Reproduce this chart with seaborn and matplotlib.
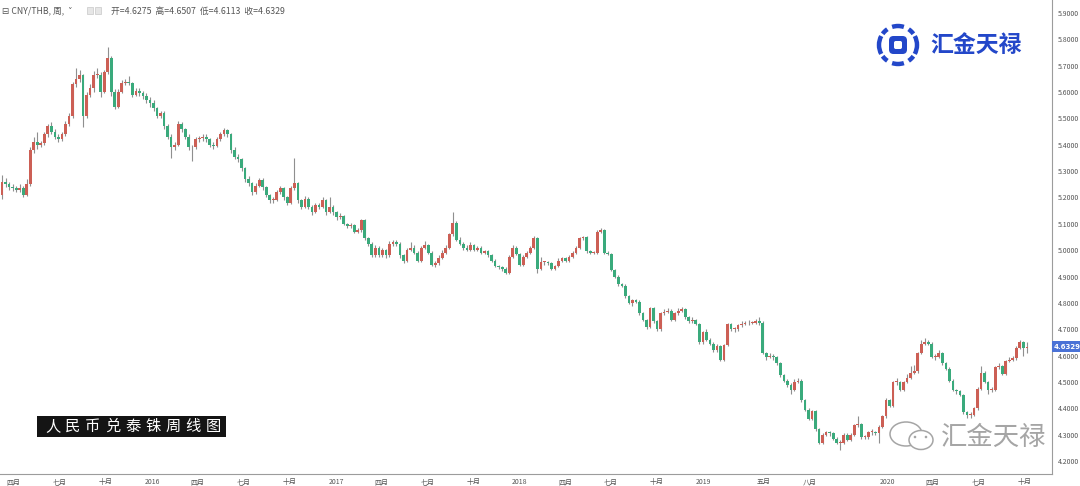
import numpy as np
import pandas as pd
import matplotlib
matplotlib.use("Agg")
import matplotlib.pyplot as plt
import matplotlib.dates as mdates
from matplotlib.patches import Rectangle, FancyBboxPatch, Arc, Ellipse, Circle
import seaborn as sns

# ---------------- data (weekly CNY/THB candles) ----------------
first_week = "2015-03-09"

opens = [
5.21, 5.26, 5.25, 5.24, 5.235, 5.23, 5.235, 5.21, 5.25, 5.38,
5.41, 5.40, 5.405, 5.44, 5.47, 5.45, 5.43, 5.42, 5.44, 5.48,
5.51, 5.63, 5.65, 5.665, 5.51, 5.59, 5.615, 5.665, 5.665, 5.60,
5.675, 5.73, 5.60, 5.545, 5.60, 5.635, 5.64, 5.635, 5.59, 5.605,
5.595, 5.585, 5.57, 5.56, 5.54, 5.51, 5.52, 5.47, 5.43, 5.39,
5.40, 5.48, 5.46, 5.43, 5.39, 5.39, 5.42, 5.425, 5.43, 5.42,
5.40, 5.395, 5.42, 5.44, 5.455, 5.44, 5.38, 5.355, 5.345, 5.31,
5.27, 5.255, 5.22, 5.245,
5.265, 5.24, 5.21, 5.19, 5.19, 5.22, 5.235, 5.20, 5.18, 5.235,
5.255, 5.19, 5.165, 5.195, 5.165, 5.145, 5.17, 5.165, 5.19, 5.145,
5.165, 5.145, 5.125, 5.13, 5.10, 5.09, 5.095, 5.07, 5.075, 5.115,
5.045, 5.025, 4.98, 5.01, 4.98, 5.00, 4.98, 5.025, 5.03, 5.025,
4.98, 4.96, 5.00, 5.01, 4.99, 4.96, 5.01, 5.02, 4.99, 4.945,
4.95, 4.97, 4.99, 5.01, 5.06, 5.105, 5.04, 5.025, 5.01, 5.00,
5.02, 5.00, 5.01, 4.99, 4.995, 4.98, 4.96, 4.94, 4.935, 4.93,
4.915, 4.975,
5.01, 4.985, 4.945, 4.975, 4.99, 5.01, 5.045, 4.93, 4.955, 4.955,
4.95, 4.93, 4.94, 4.96, 4.97, 4.96, 4.975, 4.99, 5.01, 5.045,
5.05, 4.995, 4.99, 4.99, 5.07, 5.075, 4.99, 4.985, 4.925, 4.90,
4.87, 4.865, 4.825, 4.80, 4.81, 4.805, 4.76, 4.735, 4.71, 4.78,
4.73, 4.70, 4.76, 4.765, 4.77, 4.735, 4.76, 4.77, 4.775, 4.745,
4.73, 4.735, 4.72, 4.65, 4.69, 4.66, 4.645, 4.62, 4.635, 4.585,
4.64, 4.72, 4.70, 4.70, 4.715, 4.72, 4.722, 4.725, 4.725, 4.73,
4.725, 4.61,
4.595, 4.60, 4.595, 4.57, 4.525, 4.505, 4.49, 4.47, 4.50, 4.505,
4.43, 4.395, 4.36, 4.39, 4.32, 4.27, 4.30, 4.31, 4.305, 4.285,
4.27, 4.27, 4.30, 4.28, 4.30, 4.335, 4.34, 4.29, 4.29, 4.31,
4.31, 4.305, 4.33, 4.37, 4.43, 4.41, 4.50, 4.50, 4.47, 4.50,
4.515, 4.535, 4.54, 4.61, 4.645, 4.65, 4.645, 4.595, 4.595, 4.61,
4.57, 4.55, 4.505, 4.47, 4.465, 4.45, 4.385, 4.375, 4.375, 4.40,
4.475, 4.535, 4.50, 4.47, 4.47, 4.555, 4.56, 4.53, 4.58, 4.585,
4.59, 4.63, 4.65, 4.6275,
]

closes = [
5.26, 5.25, 5.24, 5.235, 5.23, 5.235, 5.21, 5.25, 5.38, 5.41,
5.40, 5.405, 5.44, 5.47, 5.45, 5.43, 5.42, 5.44, 5.48, 5.51,
5.63, 5.65, 5.665, 5.51, 5.59, 5.615, 5.665, 5.665, 5.60, 5.675,
5.73, 5.60, 5.545, 5.60, 5.635, 5.64, 5.635, 5.59, 5.605, 5.595,
5.585, 5.57, 5.56, 5.54, 5.51, 5.52, 5.47, 5.43, 5.39, 5.40,
5.48, 5.46, 5.43, 5.39, 5.39, 5.42, 5.425, 5.43, 5.42, 5.40,
5.395, 5.42, 5.44, 5.455, 5.44, 5.38, 5.355, 5.345, 5.31, 5.27,
5.255, 5.22, 5.245, 5.265,
5.24, 5.21, 5.19, 5.19, 5.22, 5.235, 5.20, 5.18, 5.235, 5.255,
5.19, 5.165, 5.195, 5.165, 5.145, 5.17, 5.165, 5.19, 5.145, 5.165,
5.145, 5.125, 5.13, 5.10, 5.09, 5.095, 5.07, 5.075, 5.115, 5.045,
5.025, 4.98, 5.01, 4.98, 5.00, 4.98, 5.025, 5.03, 5.025, 4.98,
4.96, 5.00, 5.01, 4.99, 4.96, 5.01, 5.02, 4.99, 4.945, 4.95,
4.97, 4.99, 5.01, 5.06, 5.105, 5.04, 5.025, 5.01, 5.00, 5.02,
5.00, 5.01, 4.99, 4.995, 4.98, 4.96, 4.94, 4.935, 4.93, 4.915,
4.975, 5.01,
4.985, 4.945, 4.975, 4.99, 5.01, 5.045, 4.93, 4.955, 4.955, 4.95,
4.93, 4.94, 4.96, 4.97, 4.96, 4.975, 4.99, 5.01, 5.045, 5.05,
4.995, 4.99, 4.99, 5.07, 5.075, 4.99, 4.985, 4.925, 4.90, 4.87,
4.865, 4.825, 4.80, 4.81, 4.805, 4.76, 4.735, 4.71, 4.78, 4.73,
4.70, 4.76, 4.765, 4.77, 4.735, 4.76, 4.77, 4.775, 4.745, 4.73,
4.735, 4.72, 4.65, 4.69, 4.66, 4.645, 4.62, 4.635, 4.585, 4.64,
4.72, 4.70, 4.70, 4.715, 4.72, 4.722, 4.725, 4.725, 4.73, 4.725,
4.61, 4.595,
4.60, 4.595, 4.57, 4.525, 4.505, 4.49, 4.47, 4.50, 4.505, 4.43,
4.395, 4.36, 4.39, 4.32, 4.27, 4.30, 4.31, 4.305, 4.285, 4.27,
4.27, 4.30, 4.28, 4.30, 4.335, 4.34, 4.29, 4.29, 4.31, 4.31,
4.305, 4.33, 4.37, 4.43, 4.41, 4.50, 4.50, 4.47, 4.50, 4.515,
4.535, 4.54, 4.61, 4.645, 4.65, 4.645, 4.595, 4.595, 4.61, 4.57,
4.55, 4.505, 4.47, 4.465, 4.45, 4.385, 4.375, 4.375, 4.40, 4.475,
4.535, 4.50, 4.47, 4.47, 4.555, 4.56, 4.53, 4.58, 4.585, 4.59,
4.63, 4.65, 4.63, 4.6329,
]

highs = [
5.285, 5.275, 5.26, 5.25, 5.245, 5.25, 5.245, 5.27, 5.39, 5.43,
5.45, 5.415, 5.45, 5.48, 5.485, 5.46, 5.44, 5.45, 5.49, 5.52,
5.64, 5.69, 5.685, 5.67, 5.60, 5.63, 5.68, 5.69, 5.675, 5.685,
5.77, 5.735, 5.61, 5.61, 5.645, 5.65, 5.66, 5.64, 5.615, 5.615,
5.605, 5.595, 5.58, 5.57, 5.545, 5.53, 5.53, 5.48, 5.44, 5.41,
5.49, 5.485, 5.465, 5.44, 5.40, 5.43, 5.435, 5.44, 5.44, 5.425,
5.41, 5.43, 5.45, 5.465, 5.46, 5.445, 5.39, 5.365, 5.35, 5.315,
5.28, 5.26, 5.255, 5.275,
5.275, 5.245, 5.215, 5.20, 5.23, 5.245, 5.24, 5.205, 5.245, 5.35,
5.26, 5.195, 5.205, 5.20, 5.17, 5.18, 5.18, 5.20, 5.195, 5.20,
5.17, 5.15, 5.14, 5.135, 5.105, 5.105, 5.10, 5.085, 5.12, 5.12,
5.05, 5.03, 5.02, 5.015, 5.01, 5.005, 5.035, 5.04, 5.04, 5.03,
4.985, 5.01, 5.03, 5.02, 4.995, 5.015, 5.035, 5.025, 4.995, 4.96,
4.98, 5.00, 5.02, 5.065, 5.145, 5.11, 5.05, 5.03, 5.02, 5.03,
5.025, 5.015, 5.015, 5.00, 5.00, 4.985, 4.965, 4.945, 4.94, 4.935,
4.98, 5.02,
5.015, 4.99, 4.98, 4.995, 5.015, 5.055, 5.05, 4.975, 4.96, 4.96,
4.955, 4.945, 4.97, 4.975, 4.975, 4.98, 4.995, 5.015, 5.05, 5.055,
5.055, 5.00, 4.995, 5.075, 5.085, 5.08, 4.995, 4.99, 4.93, 4.905,
4.875, 4.87, 4.83, 4.815, 4.815, 4.81, 4.765, 4.74, 4.785, 4.785,
4.735, 4.765, 4.775, 4.78, 4.775, 4.765, 4.78, 4.785, 4.78, 4.75,
4.745, 4.74, 4.725, 4.695, 4.70, 4.665, 4.65, 4.645, 4.64, 4.645,
4.725, 4.725, 4.71, 4.72, 4.73, 4.73, 4.735, 4.73, 4.74, 4.745,
4.73, 4.615,
4.61, 4.605, 4.60, 4.575, 4.53, 4.51, 4.495, 4.51, 4.515, 4.51,
4.435, 4.40, 4.395, 4.395, 4.325, 4.305, 4.315, 4.315, 4.31, 4.29,
4.28, 4.305, 4.305, 4.305, 4.34, 4.37, 4.345, 4.30, 4.315, 4.32,
4.315, 4.335, 4.375, 4.44, 4.435, 4.505, 4.515, 4.505, 4.505, 4.53,
4.56, 4.565, 4.615, 4.66, 4.665, 4.66, 4.65, 4.605, 4.62, 4.615,
4.575, 4.555, 4.51, 4.475, 4.47, 4.455, 4.39, 4.385, 4.405, 4.48,
4.56, 4.54, 4.505, 4.48, 4.56, 4.57, 4.565, 4.585, 4.595, 4.60,
4.635, 4.66, 4.655, 4.6507,
]

lows = [
5.195, 5.24, 5.23, 5.225, 5.22, 5.22, 5.20, 5.205, 5.245, 5.37,
5.385, 5.39, 5.40, 5.43, 5.44, 5.42, 5.41, 5.415, 5.435, 5.47,
5.50, 5.62, 5.64, 5.467, 5.50, 5.58, 5.60, 5.655, 5.58, 5.595,
5.67, 5.585, 5.535, 5.54, 5.595, 5.625, 5.625, 5.58, 5.585, 5.585,
5.575, 5.56, 5.545, 5.53, 5.50, 5.50, 5.46, 5.42, 5.35, 5.38,
5.395, 5.45, 5.42, 5.38, 5.34, 5.385, 5.41, 5.415, 5.41, 5.39,
5.385, 5.39, 5.415, 5.435, 5.43, 5.37, 5.345, 5.335, 5.30, 5.26,
5.245, 5.21, 5.215, 5.24,
5.23, 5.20, 5.18, 5.18, 5.185, 5.215, 5.19, 5.17, 5.175, 5.23,
5.18, 5.155, 5.16, 5.155, 5.135, 5.14, 5.155, 5.16, 5.135, 5.14,
5.135, 5.115, 5.12, 5.095, 5.085, 5.085, 5.065, 5.065, 5.07, 5.04,
5.015, 4.975, 4.975, 4.975, 4.975, 4.97, 4.975, 5.015, 5.015, 4.97,
4.95, 4.955, 4.995, 4.985, 4.955, 4.955, 5.005, 4.985, 4.94, 4.935,
4.945, 4.965, 4.985, 5.005, 5.055, 5.035, 5.02, 5.00, 4.995, 4.995,
4.995, 4.995, 4.985, 4.985, 4.975, 4.955, 4.935, 4.93, 4.92, 4.91,
4.91, 4.97,
4.98, 4.94, 4.94, 4.97, 4.985, 5.005, 4.915, 4.925, 4.945, 4.945,
4.925, 4.925, 4.935, 4.955, 4.955, 4.955, 4.97, 4.985, 5.005, 5.04,
4.99, 4.985, 4.985, 4.985, 5.065, 4.985, 4.98, 4.92, 4.895, 4.865,
4.86, 4.82, 4.795, 4.79, 4.80, 4.755, 4.73, 4.70, 4.705, 4.725,
4.695, 4.695, 4.755, 4.76, 4.73, 4.73, 4.755, 4.765, 4.74, 4.725,
4.725, 4.715, 4.645, 4.645, 4.655, 4.64, 4.615, 4.615, 4.58, 4.58,
4.635, 4.695, 4.69, 4.695, 4.71, 4.715, 4.715, 4.72, 4.72, 4.715,
4.605, 4.585,
4.59, 4.585, 4.565, 4.52, 4.50, 4.48, 4.455, 4.465, 4.495, 4.425,
4.39, 4.355, 4.355, 4.315, 4.265, 4.265, 4.295, 4.295, 4.28, 4.265,
4.24, 4.265, 4.275, 4.275, 4.295, 4.33, 4.285, 4.285, 4.285, 4.30,
4.30, 4.27, 4.325, 4.365, 4.405, 4.405, 4.49, 4.465, 4.465, 4.495,
4.51, 4.53, 4.535, 4.605, 4.64, 4.64, 4.59, 4.585, 4.59, 4.565,
4.545, 4.50, 4.465, 4.455, 4.445, 4.38, 4.365, 4.365, 4.37, 4.395,
4.47, 4.495, 4.455, 4.46, 4.465, 4.55, 4.525, 4.525, 4.575, 4.58,
4.585, 4.625, 4.60, 4.6113,
]

tick_dates = ["2015-04-01", "2015-07-01", "2015-10-01", "2016-01-01",
              "2016-04-01", "2016-07-01", "2016-10-01", "2017-01-01",
              "2017-04-01", "2017-07-01", "2017-10-01", "2018-01-01",
              "2018-04-01", "2018-07-01", "2018-10-01", "2019-01-01",
              "2019-05-01", "2019-08-01", "2020-01-01", "2020-04-01",
              "2020-07-01", "2020-10-01"]
tick_labels = ["四月", "七月", "十月", "2016", "四月", "七月", "十月", "2017",
               "四月", "七月", "十月", "2018", "四月", "七月", "十月", "2019",
               "五月", "八月", "2020", "四月", "七月", "十月"]
price_ticks = [4.2, 4.3, 4.4, 4.5, 4.6, 4.7, 4.8, 4.9, 5.0,
               5.1, 5.2, 5.3, 5.4, 5.5, 5.6, 5.7, 5.8, 5.9]
last_open, last_high, last_low, last_close = 4.6275, 4.6507, 4.6113, 4.6329

# ---------------- style ----------------
sns.set_theme(style="white")
plt.rcParams['font.family'] = ['Noto Sans CJK SC', 'DejaVu Sans']

UP = "#CC5F55"
DOWN = "#3AAA7C"
WICK = "#8f8f8f"
AXIS = "#9c9c9c"
TXT = "#555555"

df = pd.DataFrame({
    "date": pd.date_range(first_week, periods=len(closes), freq="7D"),
    "open": opens, "high": highs, "low": lows, "close": closes,
})
df["up"] = df["close"] >= df["open"]

fig = plt.figure(figsize=(10.8, 4.86), dpi=100)
ax = fig.add_axes([0, 12 / 486, 1052 / 1080, 474 / 486])

xs = mdates.date2num(df["date"])
ax.vlines(xs, df["low"], df["high"], color=WICK, linewidth=0.8, zorder=2)
body_bottom = np.minimum(df["open"], df["close"])
body_h = np.maximum(np.abs(df["close"] - df["open"]), 0.003)
ax.bar(xs, body_h, bottom=body_bottom, width=5.4,
       color=np.where(df["up"], UP, DOWN), linewidth=0, zorder=3)

# x scale: 0.5031 px/day, Jan 1 2016 at 152 px
px_per_day = 0.5031
x2016 = mdates.date2num(pd.Timestamp("2016-01-01"))
x2020 = mdates.date2num(pd.Timestamp("2020-01-01"))
ax.set_xlim(x2016 - 152 / px_per_day, x2020 + (1052 - 887) / px_per_day)
ax.set_ylim(4.1507, 5.9493)

ax.set_xticks(mdates.date2num(pd.to_datetime(tick_dates)))
ax.set_xticklabels(tick_labels)
ax.yaxis.tick_right()
ax.set_yticks(price_ticks)
ax.set_yticklabels([f"{v:.4f}" for v in price_ticks])
ax.tick_params(axis="x", labelsize=5, colors=TXT, length=2, width=0.6, pad=1.2)
ax.tick_params(axis="y", labelsize=5, colors=TXT, length=2.5, width=0.6, pad=2)
ax.grid(False)
sns.despine(ax=ax, left=True, top=True, right=False, bottom=False)
for s in ("right", "bottom"):
    ax.spines[s].set_color(AXIS)
    ax.spines[s].set_linewidth(0.8)
ax.set_facecolor("white")

# last price tag
ax.text(1.002, last_close, f"{last_close:.4f}", transform=ax.get_yaxis_transform(),
        ha="left", va="center", fontsize=5, color="white", fontweight="bold",
        family=["DejaVu Sans"],
        bbox=dict(boxstyle="square,pad=0.35", fc="#4A72D6", ec="none"), zorder=10,
        clip_on=False)

# ---------------- overlay (pixel coordinates) ----------------
ov = fig.add_axes([0, 0, 1, 1], zorder=5)
ov.set_xlim(0, 1080)
ov.set_ylim(486, 0)
ov.axis("off")
ov.patch.set_alpha(0)

# header
ov.text(2, 11, "⊟ CNY/THB, 周,  ˅", fontsize=6.3, color=TXT, va="center", ha="left",
        family=["Noto Sans CJK SC", "DejaVu Sans"])
for xx in (87, 95):
    ov.add_patch(Rectangle((xx, 7.5), 6, 7, fc="#e6e6e6", ec="#c8c8c8", lw=0.5))
ov.text(111, 11,
        f"开={last_open:.4f}  高={last_high:.4f}  低={last_low:.4f}  收={last_close:.4f}",
        fontsize=6.3, color=TXT, va="center", ha="left")

# logo top-right
BLUE = "#2347C9"
cx, cy, r = 898, 45, 19
for t1, t2 in [(-28, 28), (152, 208), (72, 108), (252, 288),
               (36, 56), (124, 144), (216, 236), (304, 324)]:
    ov.add_patch(Arc((cx, cy), 2 * r, 2 * r, theta1=t1, theta2=t2,
                     lw=3.2, color=BLUE, capstyle="butt"))
ov.add_patch(FancyBboxPatch((cx - 9, cy - 9), 18, 18,
                            boxstyle="round,pad=0,rounding_size=4.5",
                            fc=BLUE, ec="none"))
ov.add_patch(FancyBboxPatch((cx - 4, cy - 4), 8, 8,
                            boxstyle="round,pad=0,rounding_size=1.8",
                            fc="white", ec="none"))
ov.text(976, 45, "汇金天禄", fontsize=16.5, fontweight="bold", color=BLUE,
        ha="center", va="center")

# title box bottom-left
ov.add_patch(Rectangle((37, 416), 189, 21, fc="#141414", ec="none"))
title = "人民币兑泰铢周线图"
for k, ch in enumerate(title):
    ov.text(53 + 20 * k, 426.5, ch, fontsize=11, color="white",
            fontweight="medium", ha="center", va="center")

# watermark bottom-right
GRAY = "#a5a5a5"
ov.add_patch(Ellipse((906, 434), 32, 24, fill=False, ec=GRAY, lw=1.1))
ov.add_patch(Ellipse((921, 440), 24, 19, fc="white", ec=GRAY, lw=1.1))
for dx in (915, 926):
    ov.add_patch(Circle((dx, 437), 1.3, fc=GRAY, ec="none"))
ov.text(994, 437, "汇金天禄", fontsize=19, color=GRAY, fontweight="light",
        ha="center", va="center")

fig.savefig("out.png", dpi=100, facecolor="white")
